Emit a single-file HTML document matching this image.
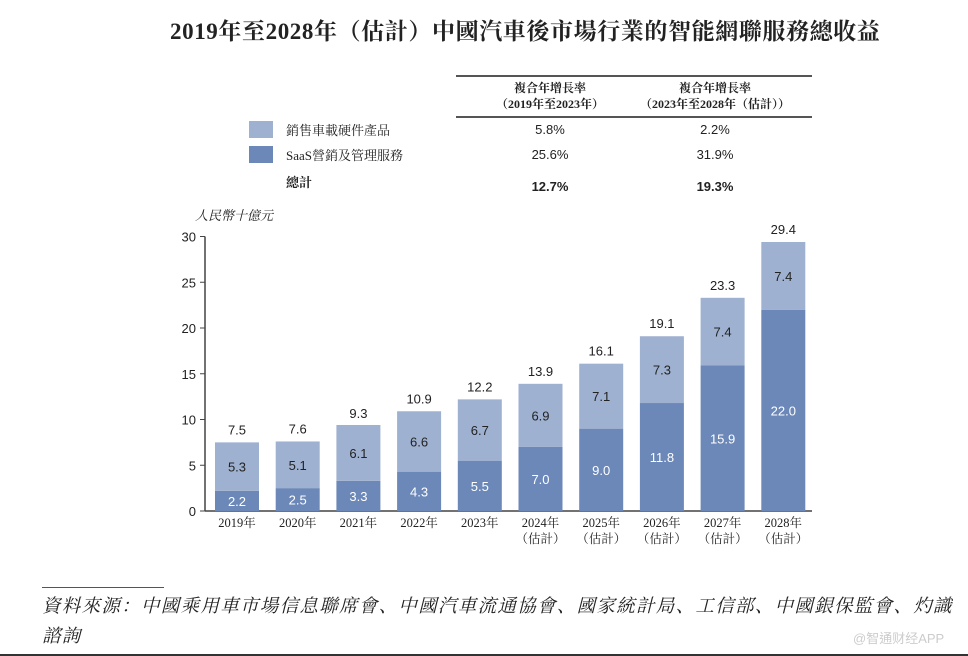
<!DOCTYPE html>
<html><head><meta charset="utf-8">
<style>
body{margin:0;width:968px;height:656px;background:#fff;overflow:hidden;position:relative;font-family:"Liberation Serif","Noto Serif CJK SC","Noto Sans CJK TC",serif;color:#222}
.abs{position:absolute;white-space:nowrap}
.sans{font-family:"Liberation Sans","Noto Sans CJK TC",sans-serif}
</style></head><body>
<div class="abs" style="left:170px;top:13px;font-size:23px;font-weight:bold;letter-spacing:0.6px;font-family:'Liberation Serif','Noto Serif CJK SC',serif">2019年至2028年（估計）中國汽車後市場行業的智能網聯服務總收益</div>

<div class="abs" style="left:456px;top:75px;width:356px;height:2px;background:#555"></div>
<div class="abs" style="left:456px;top:116px;width:356px;height:2px;background:#555"></div>
<div class="abs" style="left:480px;top:80px;width:140px;text-align:center;font-size:12px;font-weight:bold;line-height:16px">複合年增長率<br>（2019年至2023年）</div>
<div class="abs" style="left:610px;top:80px;width:210px;text-align:center;font-size:12px;font-weight:bold;line-height:16px">複合年增長率<br>（2023年至2028年（估計））</div>

<div class="abs" style="left:249px;top:121px;width:24px;height:17px;background:#9fb1d0"></div>
<div class="abs" style="left:286px;top:120px;font-size:13px">銷售車載硬件產品</div>
<div class="abs" style="left:249px;top:146px;width:24px;height:17px;background:#6b88b8"></div>
<div class="abs" style="left:286px;top:145px;font-size:13px">SaaS營銷及管理服務</div>
<div class="abs" style="left:286px;top:172px;font-size:13px;font-weight:bold">總計</div>

<div class="abs sans" style="left:500px;top:122px;width:100px;text-align:center;font-size:13px">5.8%</div>
<div class="abs sans" style="left:665px;top:122px;width:100px;text-align:center;font-size:13px">2.2%</div>
<div class="abs sans" style="left:500px;top:147px;width:100px;text-align:center;font-size:13px">25.6%</div>
<div class="abs sans" style="left:665px;top:147px;width:100px;text-align:center;font-size:13px">31.9%</div>
<div class="abs sans" style="left:500px;top:179px;width:100px;text-align:center;font-size:13px;font-weight:bold">12.7%</div>
<div class="abs sans" style="left:665px;top:179px;width:100px;text-align:center;font-size:13px;font-weight:bold">19.3%</div>

<div class="abs" style="left:195px;top:205px;font-size:13px;font-style:italic">人民幣十億元</div>

<svg id="chart" width="968" height="560" style="position:absolute;left:0;top:0"></svg>

<div class="abs" style="left:42px;top:587px;width:122px;height:1px;background:#555"></div>
<div class="abs" style="left:42px;top:592px;font-size:18.5px;letter-spacing:1.3px;font-style:italic;line-height:30px">資料來源：中國乘用車市場信息聯席會、中國汽車流通協會、國家統計局、工信部、中國銀保監會、灼識<br>諮詢</div>
<div class="abs sans" style="left:853px;top:628px;font-size:13px;color:#ccc">@智通财经APP</div>
<div class="abs" style="left:0;top:654px;width:968px;height:2px;background:#333"></div>

<script>
const categories=["2019年","2020年","2021年","2022年","2023年","2024年","2025年","2026年","2027年","2028年"];
const estimated=[false,false,false,false,false,true,true,true,true,true];
const saas=[2.2,2.5,3.3,4.3,5.5,7.0,9.0,11.8,15.9,22.0];
const hardware=[5.3,5.1,6.1,6.6,6.7,6.9,7.1,7.3,7.4,7.4];
const totals=[7.5,7.6,9.3,10.9,12.2,13.9,16.1,19.1,23.3,29.4];
const yTicks=[0,5,10,15,20,25,30];

const NS="http://www.w3.org/2000/svg";
const svg=document.getElementById('chart');
const y0=511,pxPerUnit=9.15;
const y=v=>y0-v*pxPerUnit;
const x=i=>237+i*60.7;
const bw=44;
function mk(tag,attrs,txt){const e=document.createElementNS(NS,tag);for(const k in attrs)e.setAttribute(k,attrs[k]);if(txt!==undefined)e.textContent=txt;svg.appendChild(e);return e;}
const sf='"Liberation Sans",sans-serif';

let ax=mk('line',{x1:205,y1:y(30),x2:205,y2:y0,stroke:'#444','stroke-width':1.5});


let bx=mk('line',{x1:205,y1:y0,x2:812,y2:y0,stroke:'#444','stroke-width':1.5});



yTicks.forEach(t=>{
  const tk=mk('line',{x1:200,y1:y(t),x2:205,y2:y(t),stroke:'#444'});
  
  
  const lb=mk('text',{x:196,y:y(t)+5,'text-anchor':'end','font-size':13,'font-family':sf,fill:'#222'},t);
  
  
});

categories.forEach((c,i)=>{
  const cx=x(i);
  const r1=mk('rect',{x:cx-bw/2,y:y(saas[i]),width:bw,height:saas[i]*pxPerUnit,fill:'#6b88b8'});
  
  
  const r2=mk('rect',{x:cx-bw/2,y:y(saas[i]+hardware[i]),width:bw,height:hardware[i]*pxPerUnit,fill:'#9fb1d0'});
  
  
  const t1=mk('text',{x:cx,y:y(saas[i]/2)+5,'text-anchor':'middle','font-size':13,'font-family':sf,fill:'#fff'},saas[i].toFixed(1));
  
  
  const t2=mk('text',{x:cx,y:y(saas[i]+hardware[i]/2)+5,'text-anchor':'middle','font-size':13,'font-family':sf,fill:'#222'},hardware[i].toFixed(1));
  
  
  const t3=mk('text',{x:cx,y:y(totals[i])-8,'text-anchor':'middle','font-size':13,'font-family':sf,fill:'#222'},totals[i].toFixed(1));
  
  
  const xl=mk('text',{x:cx,y:y0+16,'text-anchor':'middle','font-size':12.5,'font-family':'"Liberation Serif","Noto Serif CJK SC",serif',fill:'#222'},c);
  
  
  if(estimated[i]){
    const el=mk('text',{x:cx,y:y0+32,'text-anchor':'middle','font-size':12.5,'font-family':'"Liberation Serif","Noto Serif CJK SC",serif',fill:'#222'},'（估計）');
    
    
  }
});
</script>
</body></html>
